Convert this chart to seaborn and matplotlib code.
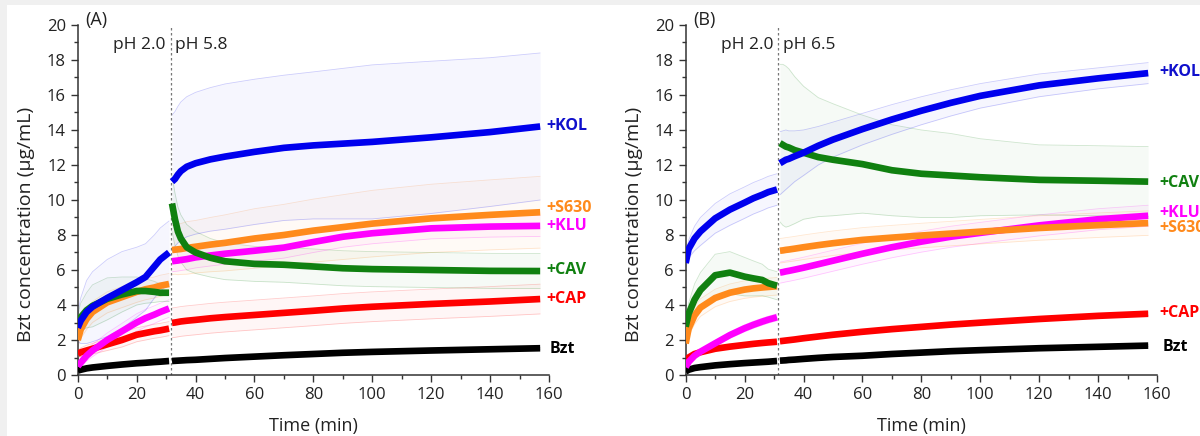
import numpy as np
import pandas as pd
import matplotlib
matplotlib.use("Agg")
import matplotlib.pyplot as plt
from matplotlib.patches import Rectangle
from matplotlib.ticker import MultipleLocator
import seaborn as sns

# — time grids (min): before / after the pH switch —
t_pre = [0, 1, 3, 5, 10, 15, 20, 23, 26, 28, 31]
t_post = [32, 33, 34, 35, 37, 40, 45, 50, 60, 70, 80, 90, 100, 120, 140, 157]
switch_t = 31.5

series = ["Bzt", "+CAP", "+KLU", "+S630", "+CAV", "+KOL"]
colors = {"Bzt": "#000000", "+CAP": "#ff0000", "+KLU": "#ff00ff",
          "+S630": "#ff8a1c", "+CAV": "#108010", "+KOL": "#0000ee"}

# — panel A (pH 2.0 -> pH 5.8), mean concentrations (ug/mL) —
a_pre = {
    "Bzt":   [0.25, 0.3, 0.38, 0.43, 0.52, 0.6, 0.67, 0.7, 0.74, 0.76, 0.8],
    "+CAP":  [1.2, 1.3, 1.4, 1.5, 1.75, 2.0, 2.3, 2.4, 2.5, 2.55, 2.65],
    "+KLU":  [0.5, 0.7, 1.1, 1.4, 2.0, 2.5, 3.0, 3.25, 3.45, 3.6, 3.8],
    "+S630": [2.0, 2.6, 3.2, 3.6, 4.15, 4.45, 4.75, 4.9, 5.0, 5.1, 5.2],
    "+CAV":  [2.9, 3.3, 3.7, 3.95, 4.35, 4.6, 4.8, 4.8, 4.75, 4.7, 4.7],
    "+KOL":  [2.7, 3.1, 3.6, 3.9, 4.4, 4.85, 5.3, 5.6, 6.2, 6.6, 7.0],
}
a_post = {
    "Bzt":   [0.8, 0.81, 0.82, 0.83, 0.85, 0.87, 0.92, 0.97, 1.05, 1.13, 1.2, 1.27, 1.32, 1.4, 1.47, 1.53],
    "+CAP":  [2.98, 3.0, 3.03, 3.06, 3.1, 3.15, 3.24, 3.31, 3.43, 3.55, 3.67, 3.8, 3.9, 4.06, 4.2, 4.34],
    "+KLU":  [6.5, 6.52, 6.54, 6.57, 6.62, 6.72, 6.83, 6.93, 7.1, 7.28, 7.6, 7.9, 8.1, 8.38, 8.48, 8.52],
    "+S630": [7.14, 7.16, 7.18, 7.2, 7.26, 7.33, 7.45, 7.55, 7.8, 8.0, 8.25, 8.45, 8.65, 8.95, 9.15, 9.3],
    "+CAV":  [9.8, 8.9, 8.2, 7.8, 7.3, 7.0, 6.7, 6.5, 6.35, 6.3, 6.2, 6.1, 6.05, 6.0, 5.95, 5.94],
    "+KOL":  [11.05, 11.2, 11.45, 11.65, 11.9, 12.1, 12.32, 12.48, 12.75, 12.98, 13.12, 13.22, 13.32, 13.58, 13.88, 14.2],
}
# error bar half-widths, panel A
a_pre_err = {
    "Bzt":   [0.05] * 11,
    "+CAP":  [0.2, 0.25, 0.3, 0.3, 0.35, 0.4, 0.4, 0.4, 0.4, 0.4, 0.4],
    "+KLU":  [0.2, 0.25, 0.3, 0.35, 0.4, 0.45, 0.5, 0.5, 0.5, 0.5, 0.5],
    "+S630": [0.4, 0.5, 0.6, 0.6, 0.6, 0.6, 0.6, 0.6, 0.6, 0.6, 0.6],
    "+CAV":  [0.5, 0.8, 1.0, 1.2, 1.2, 1.0, 0.8, 0.7, 0.6, 0.5, 0.5],
    "+KOL":  [0.8, 1.3, 1.8, 2.0, 2.2, 2.2, 2.0, 1.9, 1.8, 1.8, 1.8],
}
a_post_err = {
    "Bzt":   [0.05] * 16,
    "+CAP":  [0.85] * 16,
    "+KLU":  [0.6] * 16,
    "+S630": [1.4, 1.4, 1.45, 1.45, 1.5, 1.5, 1.55, 1.6, 1.7, 1.75, 1.8, 1.85, 1.9, 1.95, 2.0, 2.05],
    "+CAV":  [1.6, 1.5, 1.4, 1.35, 1.3, 1.2, 1.1, 1.05, 1.0, 1.0, 1.0, 1.0, 1.0, 1.0, 1.0, 1.0],
    "+KOL":  [3.8, 3.85, 3.9, 3.95, 4.0, 4.05, 4.1, 4.15, 4.15, 4.15, 4.2, 4.3, 4.4, 4.35, 4.25, 4.2],
}

# — panel B (pH 2.0 -> pH 6.5) —
b_pre = {
    "Bzt":   [0.2, 0.3, 0.4, 0.45, 0.55, 0.62, 0.68, 0.71, 0.74, 0.76, 0.8],
    "+CAP":  [0.8, 1.0, 1.2, 1.3, 1.5, 1.62, 1.72, 1.78, 1.83, 1.86, 1.9],
    "+KLU":  [0.45, 0.75, 1.1, 1.33, 1.81, 2.28, 2.67, 2.87, 3.05, 3.16, 3.3],
    "+S630": [1.8, 2.65, 3.4, 3.85, 4.4, 4.7, 4.88, 4.95, 5.0, 5.03, 5.07],
    "+CAV":  [2.76, 3.5, 4.3, 4.85, 5.7, 5.85, 5.62, 5.52, 5.43, 5.25, 5.1],
    "+KOL":  [6.4, 7.2, 7.8, 8.2, 8.95, 9.45, 9.85, 10.1, 10.3, 10.45, 10.6],
}
b_post = {
    "Bzt":   [0.82, 0.83, 0.84, 0.86, 0.88, 0.92, 0.98, 1.03, 1.1, 1.2, 1.28, 1.36, 1.42, 1.53, 1.61, 1.68],
    "+CAP":  [1.93, 1.95, 1.97, 1.99, 2.03, 2.1, 2.2, 2.3, 2.47, 2.62, 2.75, 2.88, 2.99, 3.2, 3.38, 3.5],
    "+KLU":  [5.85, 5.88, 5.92, 5.95, 6.02, 6.13, 6.33, 6.53, 6.93, 7.3, 7.62, 7.9, 8.12, 8.55, 8.9, 9.1],
    "+S630": [7.1, 7.12, 7.15, 7.17, 7.22, 7.3, 7.42, 7.53, 7.72, 7.85, 7.97, 8.08, 8.19, 8.4, 8.56, 8.68],
    "+CAV":  [13.25, 13.15, 13.05, 13.0, 12.85, 12.7, 12.45, 12.3, 12.05, 11.7, 11.5, 11.4, 11.3, 11.15, 11.1, 11.05],
    "+KOL":  [12.1, 12.2, 12.3, 12.35, 12.5, 12.7, 13.1, 13.45, 14.05, 14.6, 15.1, 15.55, 15.95, 16.55, 16.95, 17.25],
}
b_pre_err = {
    "Bzt":   [0.05] * 11,
    "+CAP":  [0.1] * 11,
    "+KLU":  [0.1, 0.1, 0.12, 0.14, 0.16, 0.18, 0.2, 0.2, 0.2, 0.2, 0.2],
    "+S630": [0.3, 0.4, 0.5, 0.5, 0.5, 0.5, 0.5, 0.5, 0.5, 0.5, 0.5],
    "+CAV":  [0.3, 0.6, 0.9, 1.0, 1.2, 1.2, 1.1, 1.0, 0.9, 0.8, 0.8],
    "+KOL":  [0.3, 0.5, 0.7, 0.8, 0.85, 0.9, 0.9, 0.9, 0.9, 0.9, 0.9],
}
b_post_err = {
    "Bzt":   [0.05] * 16,
    "+CAP":  [0.1] * 16,
    "+KLU":  [0.6] * 16,
    "+S630": [0.7] * 16,
    "+CAV":  [4.5, 4.6, 4.6, 4.5, 4.2, 3.8, 3.4, 3.2, 2.8, 2.6, 2.5, 2.4, 2.2, 2.0, 2.0, 2.0],
    "+KOL":  [1.8, 1.75, 1.7, 1.6, 1.45, 1.3, 1.1, 1.0, 0.9, 0.85, 0.8, 0.75, 0.7, 0.65, 0.6, 0.6],
}

# end-of-curve label heights (data units)
a_labels = {"+KOL": 14.2, "+S630": 9.52, "+KLU": 8.51, "+CAV": 6.0, "+CAP": 4.34, "Bzt": 1.49}
b_labels = {"+KOL": 17.33, "+CAV": 10.99, "+KLU": 9.28, "+S630": 8.38, "+CAP": 3.52, "Bzt": 1.62}

sns.set_theme(style="ticks")
plt.rcParams["font.family"] = ["Open Sans", "DejaVu Sans"]

fig = plt.figure(figsize=(12, 4.36), dpi=100, facecolor="#f0f0f0")
fig.patches.append(Rectangle((7 / 1200, 0), 1, 1 - 5 / 436, transform=fig.transFigure,
                             facecolor="white", edgecolor="none", zorder=-10))

ax_a = fig.add_axes([0.0648, 0.1399, 0.3927, 0.8028])
ax_b = fig.add_axes([0.5714, 0.1399, 0.3928, 0.8028])


def long_frame(pre, post):
    rows = []
    for s in series:
        for t, v in zip(t_pre, pre[s]):
            rows.append((s, "pre", t, v))
        for t, v in zip(t_post, post[s]):
            rows.append((s, "post", t, v))
    return pd.DataFrame(rows, columns=["series", "phase", "time", "conc"])


def draw_panel(ax, pre, post, pre_err, post_err, labels, label_x, tag, ph2):
    # faint error-bar envelopes
    for s in series:
        c = colors[s]
        for tt, m, e in ((t_pre, pre[s], pre_err[s]), (t_post, post[s], post_err[s])):
            m = np.array(m); e = np.array(e)
            ax.fill_between(tt, m - e, m + e, color=c, alpha=0.035, lw=0, zorder=1)
            ax.plot(tt, m + e, color=c, alpha=0.2, lw=0.6, zorder=1)
            ax.plot(tt, m - e, color=c, alpha=0.2, lw=0.6, zorder=1)
    df = long_frame(pre, post)
    sns.lineplot(data=df, x="time", y="conc", hue="series", units="phase",
                 estimator=None, palette=colors, hue_order=series, legend=False,
                 lw=4.8, solid_capstyle="butt", ax=ax, zorder=3)

    ax.axvline(switch_t, color="#777777", lw=0.9, ls=(0, (2, 2)), zorder=2)
    for s, y in labels.items():
        ax.text(label_x + (1 if s == "Bzt" else 0), y, s,
                color=colors[s] if s != "+KOL" else "#1010cc",
                fontsize=11.5, fontweight="bold", va="center", ha="left", clip_on=False)
    ax.text(2.6, 20.3, tag, fontsize=13, va="center", ha="left", color="#222222", clip_on=False)
    ax.text(switch_t - 1.6, 18.85, "pH 2.0", fontsize=12.5, va="center", ha="right", color="#222222")
    ax.text(switch_t + 1.6, 18.85, ph2, fontsize=12.5, va="center", ha="left", color="#222222")

    ax.set_xlim(0, 160)
    ax.set_ylim(0, 20)
    ax.xaxis.set_major_locator(MultipleLocator(20))
    ax.xaxis.set_minor_locator(MultipleLocator(10))
    ax.yaxis.set_major_locator(MultipleLocator(2))
    ax.yaxis.set_minor_locator(MultipleLocator(1))
    ax.tick_params(which="major", length=5, width=1, labelsize=12, color="#333333", labelcolor="#222222")
    ax.tick_params(which="minor", length=3, width=1, color="#333333")
    for sp in ("left", "bottom"):
        ax.spines[sp].set_color("#333333")
        ax.spines[sp].set_linewidth(1.1)
    sns.despine(ax=ax)
    ax.set_xlabel("Time (min)", fontsize=13, color="#222222", labelpad=10)
    ax.set_ylabel("Bzt concentration (\u03bcg/mL)", fontsize=14, color="#222222")
    ax.yaxis.set_label_coords(-0.09, 0.43)
    ax.set_facecolor("none")


draw_panel(ax_a, a_pre, a_post, a_pre_err, a_post_err, a_labels, 159.2, "(A)", "pH 5.8")
draw_panel(ax_b, b_pre, b_post, b_pre_err, b_post_err, b_labels, 160.8, "(B)", "pH 6.5")

fig.savefig("out.png", dpi=100, facecolor=fig.get_facecolor())
